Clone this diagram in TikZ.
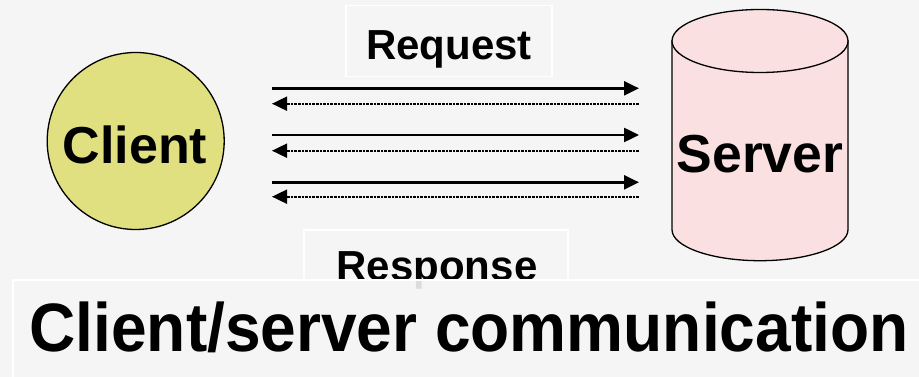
\documentclass[tikz,border=0pt]{standalone}
\usepackage{fontspec}
\setmainfont{Liberation Sans}
\usetikzlibrary{arrows.meta}
\definecolor{bg}{RGB}{245,245,245}
\definecolor{clientfill}{RGB}{224,224,128}
\definecolor{serverfill}{RGB}{250,224,224}
\tikzset{
  label text/.style={font=\fontsize{42}{42}\selectfont\bfseries, anchor=base, inner sep=0pt},
  frame/.style={draw=white, line width=1.5pt},
  req/.style={line width=2.5pt, -{Triangle[length=15pt,width=14pt]}},
  resp/.style={line width=1.8pt, dash pattern=on 2.6pt off 1pt, -{Triangle[length=15pt,width=14pt]}},
}
\begin{document}
\begin{tikzpicture}[x=1pt,y=1pt]
  \fill[bg] (0,0) rectangle (919,377);
  \useasboundingbox (0,0) rectangle (919,377);

  % client
  \node[circle, draw, line width=1.3pt, fill=clientfill, minimum size=177pt, inner sep=0pt] (client) at (135.7,236) {};
  \node[font=\fontsize{52}{52}\selectfont\bfseries, anchor=base, inner sep=0pt] (clienttext) at (135,213) {Client};

  % server (cylinder)
  \filldraw[fill=serverfill, line width=1.3pt]
    (672,336) -- (672,147.3) arc[start angle=180, end angle=360, x radius=88, y radius=31] -- (848,336) -- cycle;
  \filldraw[fill=serverfill, line width=1.3pt] (760,336) ellipse[x radius=88, y radius=31.5];
  \node[font=\fontsize{53.5}{53.5}\selectfont\bfseries, anchor=base, inner sep=0pt] (server) at (760,204) {Server};

  % request label
  \draw[frame] (346,300.3) rectangle (552,371.3);
  \node[label text] (request) at (449,317.7) {Request};

  % response label
  \draw[frame] (304,77) rectangle (568,147);
  \node[label text] (response) at (437,96) {Response};

  % message arrows
  \foreach \i/\ys/\yd in {1/288.7/273.3, 2/242/226.3, 3/194.7/180.3} {
    \coordinate (s\i) at (272,\ys);
    \coordinate (e\i) at (639,\ys);
    \coordinate (ds\i) at (639,\yd);
    \coordinate (de\i) at (272,\yd);
    \draw[req] (s\i) -- (e\i);
    \draw[resp] (ds\i) -- (de\i);
  }

  % title
  \filldraw[frame, fill=bg, fill opacity=0.9] (13,97) rectangle (935,-10);
  \node[font=\fontsize{68.5}{68.5}\selectfont\bfseries, anchor=base, inner sep=0pt, xscale=0.935] (title) at (469,25) {Client/server communication};
\end{tikzpicture}
\end{document}
